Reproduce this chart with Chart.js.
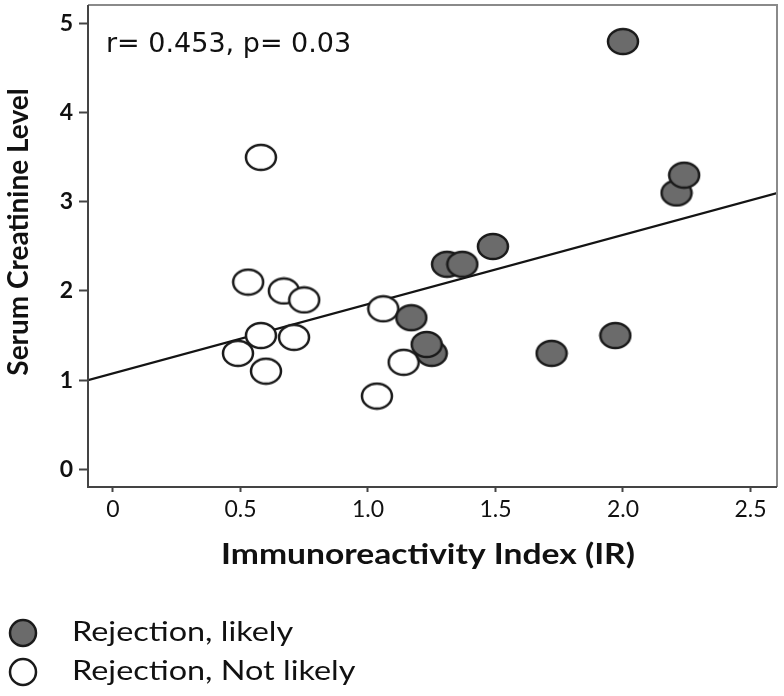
<!DOCTYPE html>
<html>
<head>
<meta charset="utf-8">
<script src="https://cdn.jsdelivr.net/npm/chart.js@4"></script>
<style>
  body { margin: 0; background: #fff; }
  canvas { display: block; }
</style>
</head>
<body>
<canvas id="grafico" width="784" height="696"></canvas>
<script>
// valores
const likelyIR = [2.0, 2.21, 2.24, 1.49, 1.31, 1.37, 1.17, 1.25, 1.23, 1.72, 1.97]
const likelySCr = [4.8, 3.1, 3.3, 2.5, 2.3, 2.3, 1.7, 1.3, 1.4, 1.3, 1.5]

const notLikelyIR = [0.58, 0.53, 0.67, 0.75, 0.49, 0.58, 0.71, 0.60, 1.06, 1.035, 1.14]
const notLikelySCr = [3.5, 2.1, 2.0, 1.9, 1.3, 1.5, 1.48, 1.1, 1.8, 0.82, 1.2]

const fitIR = [-0.098, 2.604]
const fitSCr = [1.0, 3.1]

const xTicks = [0, 0.5, 1.0, 1.5, 2.0, 2.5]
const xTickLabels = ['0', '0.5', '1.0', '1.5', '2.0', '2.5']
const yTicks = [0, 1, 2, 3, 4, 5]
const yTickLabels = ['0', '1', '2', '3', '4', '5']

const legendas = ['Rejection, likely', 'Rejection, Not likely']
const anotacao = 'r= 0.453, p= 0.03'

function juntaPontos(xs, ys) {
    return xs.map((x, i) => ({ x: x, y: ys[i] }))
}

function fazElipse(cor, w, h) {
    let c = document.createElement('canvas')
    c.width = w + 4
    c.height = h + 4
    let g = c.getContext('2d')
    g.beginPath()
    g.ellipse(c.width / 2, c.height / 2, w / 2, h / 2, 0, 0, Math.PI * 2)
    g.fillStyle = cor
    g.fill()
    g.lineWidth = 2.5
    g.strokeStyle = '#1a1a1a'
    g.stroke()
    return c
}

// texto esticado na horizontal, como na figura original
function escreve(ctx, txt, x, y, fonte, alinhamento) {
    ctx.save()
    ctx.translate(x, y)
    ctx.scale(1.2, 1)
    ctx.font = fonte
    ctx.textAlign = alinhamento
    ctx.fillText(txt, 0, 0)
    ctx.restore()
}

const corCheia = '#6b6b6b'
const corVazia = '#ffffff'
const marcaCheia = fazElipse(corCheia, 30, 25)
const marcaVazia = fazElipse(corVazia, 30, 25)

const textos = {
    id: 'textos',
    afterDraw(chart) {
        const ctx = chart.ctx
        const a = chart.chartArea
        ctx.save()
        // moldura
        ctx.lineWidth = 2
        ctx.strokeStyle = '#8a8a8a'
        ctx.beginPath()
        ctx.moveTo(a.left, a.top)
        ctx.lineTo(a.right, a.top)
        ctx.lineTo(a.right, a.bottom)
        ctx.stroke()
        ctx.strokeStyle = '#444'
        ctx.beginPath()
        ctx.moveTo(a.left, a.top)
        ctx.lineTo(a.left, a.bottom)
        ctx.lineTo(a.right, a.bottom)
        ctx.stroke()

        ctx.fillStyle = '#111'
        ctx.textBaseline = 'middle'
        ctx.textAlign = 'left'
        ctx.font = '27px "DejaVu Sans"'
        ctx.fillText(anotacao, 106, 45)

        escreve(ctx, 'Immunoreactivity Index (IR)', 428, 555, 'bold 28px Lato', 'center')

        ctx.save()
        ctx.translate(19, 232)
        ctx.rotate(-Math.PI / 2)
        ctx.font = 'bold 28px Lato'
        ctx.textAlign = 'center'
        ctx.fillText('Serum Creatinine Level', 0, 0)
        ctx.restore()

        // legenda
        const linhas = [633, 672]
        const cores = [corCheia, corVazia]
        legendas.forEach((txt, i) => {
            ctx.beginPath()
            ctx.ellipse(23, linhas[i], 13, 13, 0, 0, Math.PI * 2)
            ctx.fillStyle = cores[i]
            ctx.fill()
            ctx.lineWidth = 2.5
            ctx.strokeStyle = '#1a1a1a'
            ctx.stroke()
            ctx.fillStyle = '#111'
            escreve(ctx, txt, 72, linhas[i] - 1, '27px Lato', 'left')
        })
        ctx.restore()
    }
}

const grafico = new Chart(document.getElementById('grafico'), {
    type: 'scatter',
    data: {
        datasets: [{
            label: legendas[0],
            data: juntaPontos(likelyIR, likelySCr),
            pointStyle: marcaCheia,
            order: 1
        }, {
            label: legendas[1],
            data: juntaPontos(notLikelyIR, notLikelySCr),
            pointStyle: marcaVazia,
            order: 2
        }, {
            label: 'fit',
            data: juntaPontos(fitIR, fitSCr),
            showLine: true,
            borderColor: '#141414',
            borderWidth: 2.2,
            pointRadius: 0,
            order: 3
        }]
    },
    options: {
        responsive: false,
        animation: false,
        layout: { padding: { left: 0, top: 5, right: 7, bottom: 0 } },
        plugins: {
            legend: { display: false },
            tooltip: { enabled: false }
        },
        scales: {
            x: {
                type: 'linear',
                min: -0.098,
                max: 2.604,
                afterBuildTicks: s => { s.ticks = xTicks.map(v => ({ value: v })) },
                afterFit: s => { s.height = 209; s.paddingLeft = 0; s.paddingRight = 0 },
                ticks: {
                    callback: (v, i) => xTickLabels[i],
                    font: { family: 'Lato', size: 23 },
                    color: '#111',
                    padding: 4
                },
                grid: { drawOnChartArea: false, tickLength: 5, tickWidth: 2, color: '#444' },
                border: { display: false }
            },
            y: {
                type: 'linear',
                min: -0.2,
                max: 5.21,
                afterBuildTicks: s => { s.ticks = yTicks.map(v => ({ value: v })) },
                afterFit: s => { s.width = 88; s.paddingTop = 0; s.paddingBottom = 0 },
                ticks: {
                    callback: (v, i) => yTickLabels[i],
                    font: { family: 'Lato', size: 23, weight: 'bold' },
                    color: '#111',
                    padding: 6
                },
                grid: { drawOnChartArea: false, tickLength: 9, tickWidth: 2, color: '#444' },
                border: { display: false }
            }
        }
    },
    plugins: [textos]
})
</script>
</body>
</html>
